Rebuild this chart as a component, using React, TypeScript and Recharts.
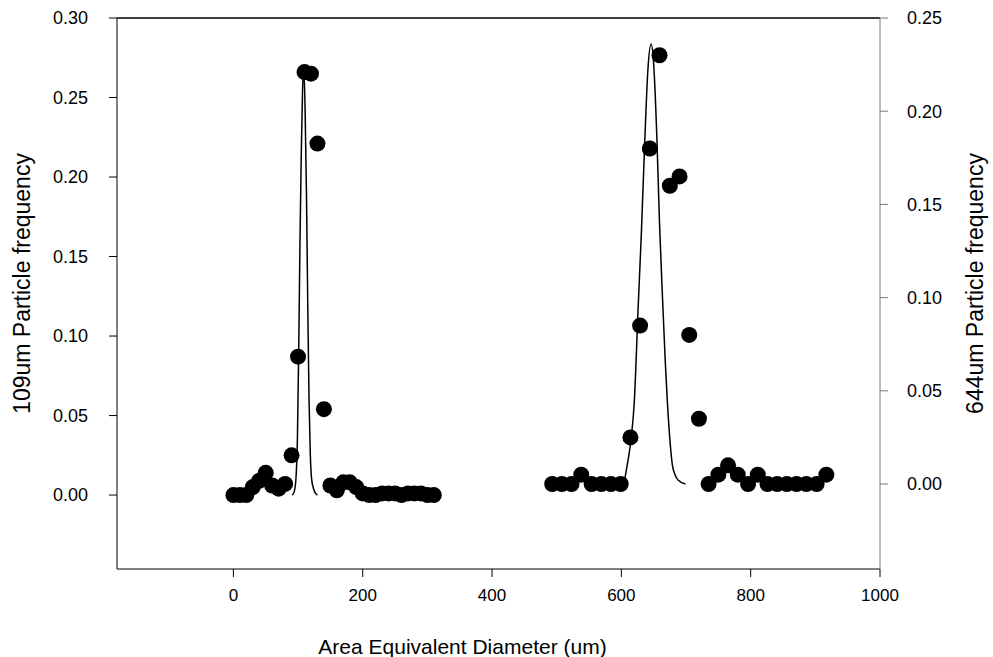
import { ComposedChart, Scatter, Line, XAxis, YAxis, ReferenceLine } from 'recharts';

// 109um sample: measured frequencies (left axis)
const dia109 = [0, 10, 20, 30, 40, 50, 60, 70, 80, 90, 100, 110, 120, 130, 140, 150, 160, 170, 180, 190, 200, 210, 220, 230, 240, 250, 260, 270, 280, 290, 300, 310];
const freq109 = [0.0, 0.0, 0.0, 0.005, 0.009, 0.014, 0.006, 0.004, 0.007, 0.025, 0.087, 0.266, 0.265, 0.221, 0.054, 0.006, 0.003, 0.008, 0.008, 0.005, 0.001, 0.0, 0.0, 0.001, 0.001, 0.001, 0.0, 0.001, 0.001, 0.001, 0.0, 0.0];

// 109um fitted curve
const fitDia109 = [91, 94, 97, 99, 101, 103, 105, 107, 109, 111, 113, 115, 117, 119, 121, 124, 127, 130];
const fit109 = [0.0, 0.002, 0.012, 0.035, 0.09, 0.16, 0.215, 0.255, 0.268, 0.24, 0.19, 0.12, 0.06, 0.025, 0.01, 0.004, 0.001, 0.0];

// 644um sample: measured frequencies (right axis)
const dia644 = [493, 508, 523, 538, 554, 569, 584, 599, 614, 629, 644, 659, 675, 690, 705, 720, 735, 750, 765, 780, 796, 811, 826, 841, 856, 871, 886, 902, 917];
const freq644 = [0.0, 0.0, 0.0, 0.005, 0.0, 0.0, 0.0, 0.0, 0.025, 0.085, 0.18, 0.23, 0.16, 0.165, 0.08, 0.035, 0.0, 0.005, 0.01, 0.005, 0.0, 0.005, 0.0, 0.0, 0.0, 0.0, 0.0, 0.0, 0.005];

// 644um fitted curve
const fitDia644 = [604, 606, 610, 615, 620, 626, 631, 636, 641, 646, 650, 655, 659, 664, 668, 671, 675, 679, 683, 688, 699];
const fit644 = [0.0, 0.004, 0.012, 0.024, 0.044, 0.095, 0.135, 0.182, 0.222, 0.236, 0.225, 0.185, 0.14, 0.097, 0.065, 0.045, 0.024, 0.01, 0.005, 0.002, 0.0];

const xTicks = [0, 200, 400, 600, 800, 1000];
const leftTicks = [0, 0.05, 0.1, 0.15, 0.2, 0.25, 0.3];
const rightTicks = [0, 0.05, 0.1, 0.15, 0.2, 0.25];

const pts109 = dia109.map((x, i) => ({ x, y: freq109[i] }));
const curve109 = fitDia109.map((x, i) => ({ x, y: fit109[i] }));
const pts644 = dia644.map((x, i) => ({ x, y: freq644[i] }));
const curve644 = fitDia644.map((x, i) => ({ x, y: fit644[i] }));

const FONT = '"Liberation Sans", Arial, sans-serif';
const xTickStyle = { fill: '#000', fontSize: 17, fontFamily: FONT };
const yTickStyle = { fill: '#000', fontSize: 18, fontFamily: FONT };
const xTitleStyle = { fill: '#000', fontSize: 21, fontFamily: FONT, textAnchor: 'middle' as const };
const yTitleStyle = { fill: '#000', fontSize: 23, fontFamily: FONT, textAnchor: 'middle' as const };

const Dot = (p: any) => <circle cx={p.cx} cy={p.cy} r={8} fill="#000" />;

export default function App() {
  return (
    <div style={{ position: 'absolute', left: 0, top: 0, background: '#fff' }}>
      <ComposedChart width={993} height={657} margin={{ top: 18, right: 0, bottom: 0, left: 0 }}>
        <XAxis
          dataKey="x"
          type="number"
          domain={[-180, 1000]}
          ticks={xTicks}
          allowDataOverflow
          height={88}
          tickSize={8}
          tickMargin={12}
          tick={xTickStyle}
          stroke="#000"
          label={{ value: 'Area Equivalent Diameter (um)', position: 'insideBottom', offset: 3, dx: -36, style: xTitleStyle }}
        />
        <YAxis
          yAxisId="left"
          dataKey="y"
          type="number"
          domain={[-0.0465, 0.3]}
          ticks={leftTicks}
          allowDataOverflow
          width={117}
          tickSize={8}
          tickMargin={21}
          tick={yTickStyle}
          stroke="#000"
          tickFormatter={(v: number) => v.toFixed(2)}
          label={{ value: '109um Particle frequency', angle: -90, position: 'insideLeft', offset: 22, dy: -10, style: yTitleStyle }}
        />
        <YAxis
          yAxisId="right"
          orientation="right"
          dataKey="y"
          type="number"
          domain={[-0.0456, 0.25]}
          ticks={rightTicks}
          allowDataOverflow
          width={113}
          tickSize={8}
          tickMargin={19}
          tick={yTickStyle}
          stroke="#777"
          tickFormatter={(v: number) => v.toFixed(2)}
          label={{ value: '644um Particle frequency', angle: -90, position: 'insideRight', offset: 18, dy: -10, style: yTitleStyle }}
        />
        <ReferenceLine yAxisId="left" y={0.3} stroke="#000" strokeWidth={1.5} />
        <Line yAxisId="left" data={curve109} dataKey="y" type="monotone" stroke="#000" strokeWidth={1.5} dot={false} isAnimationActive={false} />
        <Line yAxisId="right" data={curve644} dataKey="y" type="monotone" stroke="#000" strokeWidth={1.5} dot={false} isAnimationActive={false} />
        <Scatter yAxisId="left" data={pts109} dataKey="y" fill="#000" shape={Dot} isAnimationActive={false} />
        <Scatter yAxisId="right" data={pts644} dataKey="y" fill="#000" shape={Dot} isAnimationActive={false} />
      </ComposedChart>
    </div>
  );
}
